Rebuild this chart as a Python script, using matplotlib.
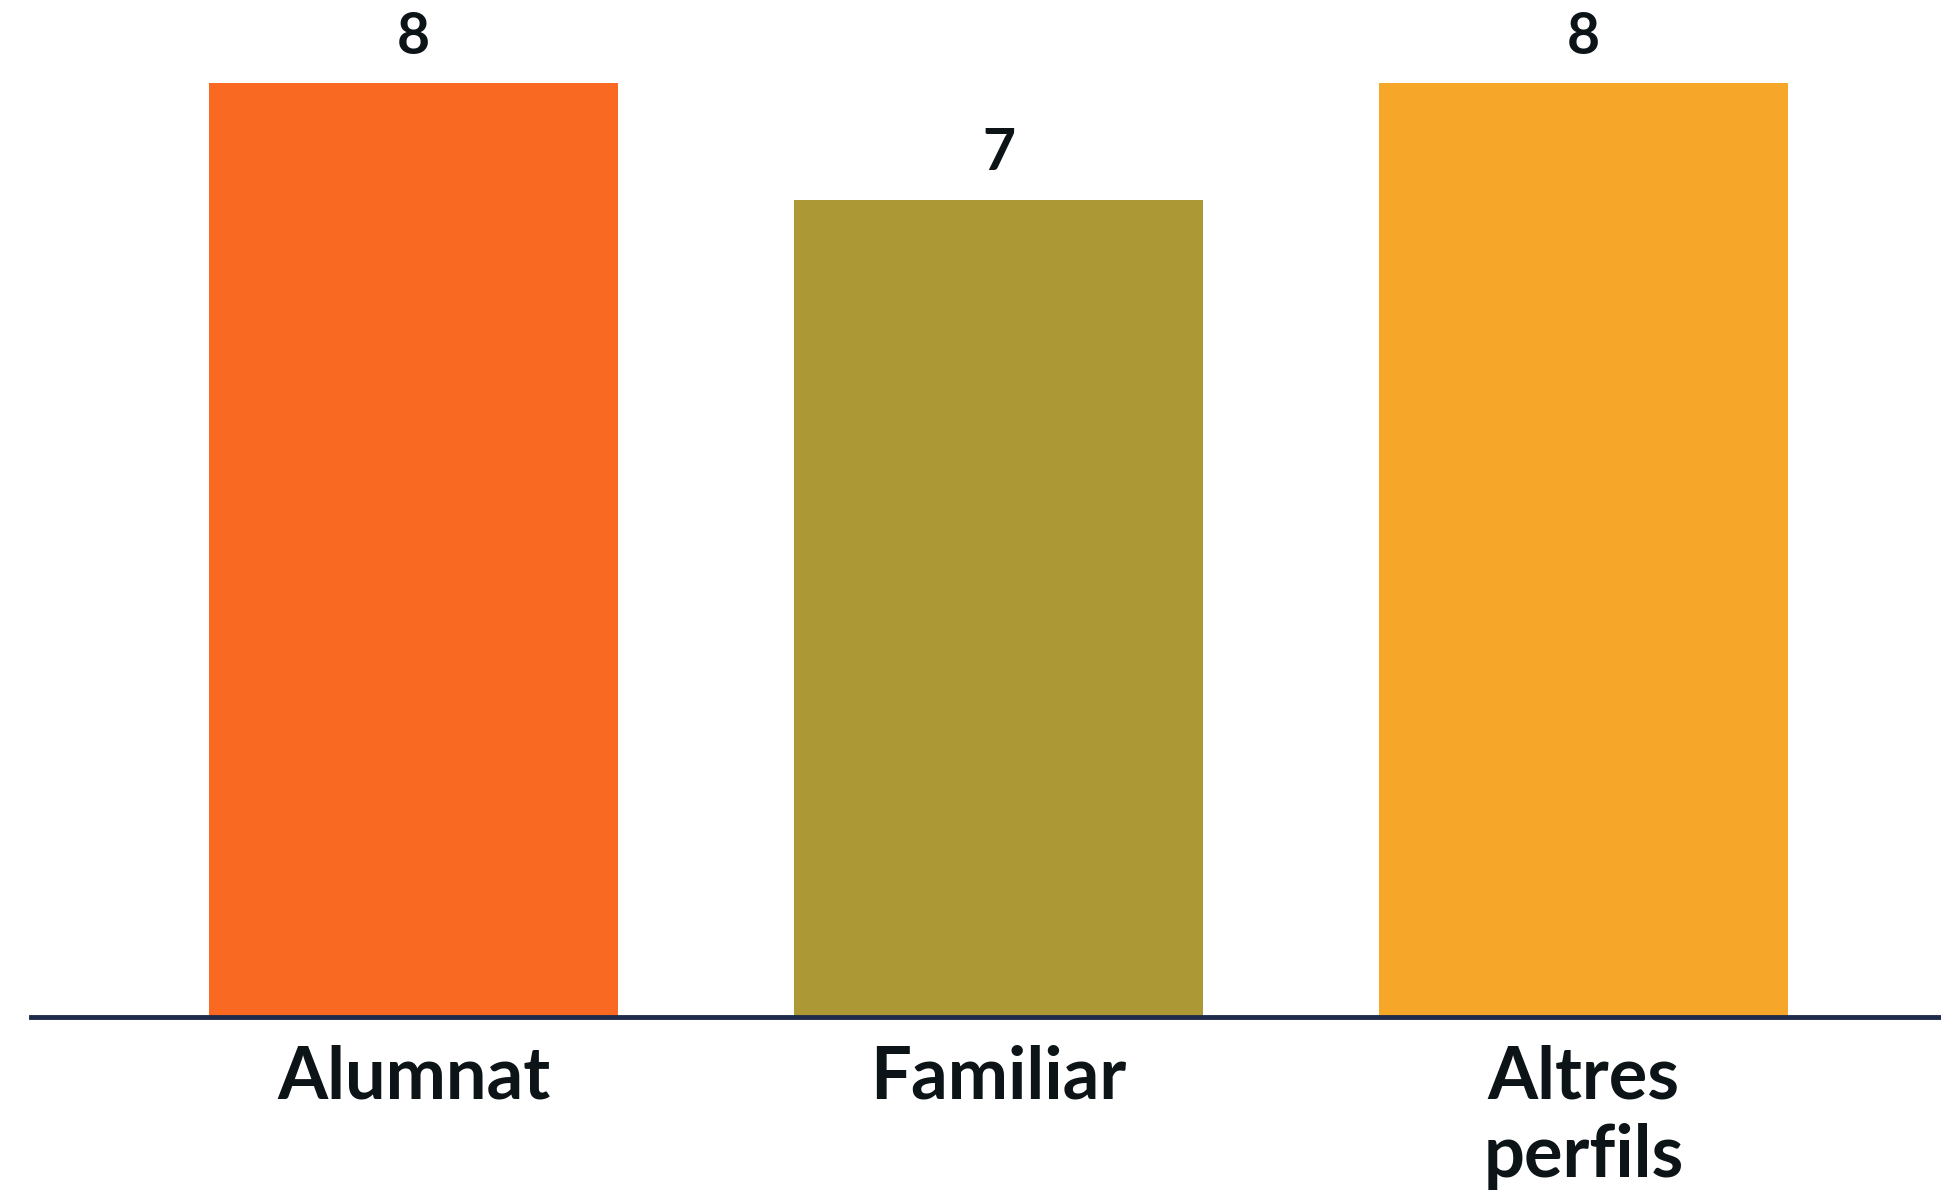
import matplotlib
matplotlib.use("Agg")
import matplotlib.pyplot as plt

categories = ["Alumnat", "Familiar", "Altres\nperfils"]
values = [8, 7, 8]
colors = ["#F96921", "#AC9835", "#F6A72A"]

W, H = 1941, 1198
fig = plt.figure(figsize=(W / 100, H / 100), dpi=100)
ax = fig.add_axes([31 / W, (H - 1017) / H, (W - 31) / W, 1017 / H])

x = list(range(len(categories)))
bars = ax.bar(x, values, width=0.70, color=colors, zorder=2)
ax.set_xlim(-0.654, 2.611)
ax.set_ylim(0, 8.711)

font = dict(family=["Lato", "DejaVu Sans"], fontweight="bold", color="#0d1417")
for b, v in zip(bars, values):
    ax.annotate(f"{v}", (b.get_x() + b.get_width() / 2, v), xytext=(0, 14),
                textcoords="offset points", ha="center", va="bottom",
                fontsize=41, **font)

ax.set_xticks(x)
ax.set_xticklabels(categories, fontsize=52, linespacing=1.2, **font)
ax.tick_params(axis="x", length=0, pad=20)
ax.set_yticks([])
for s in ["top", "right", "left"]:
    ax.spines[s].set_visible(False)
ax.spines["bottom"].set_color("#1f2b4a")
ax.spines["bottom"].set_linewidth(3.5)
ax.spines["bottom"].set_zorder(3)

fig.savefig("out.png", dpi=100, facecolor="white")
